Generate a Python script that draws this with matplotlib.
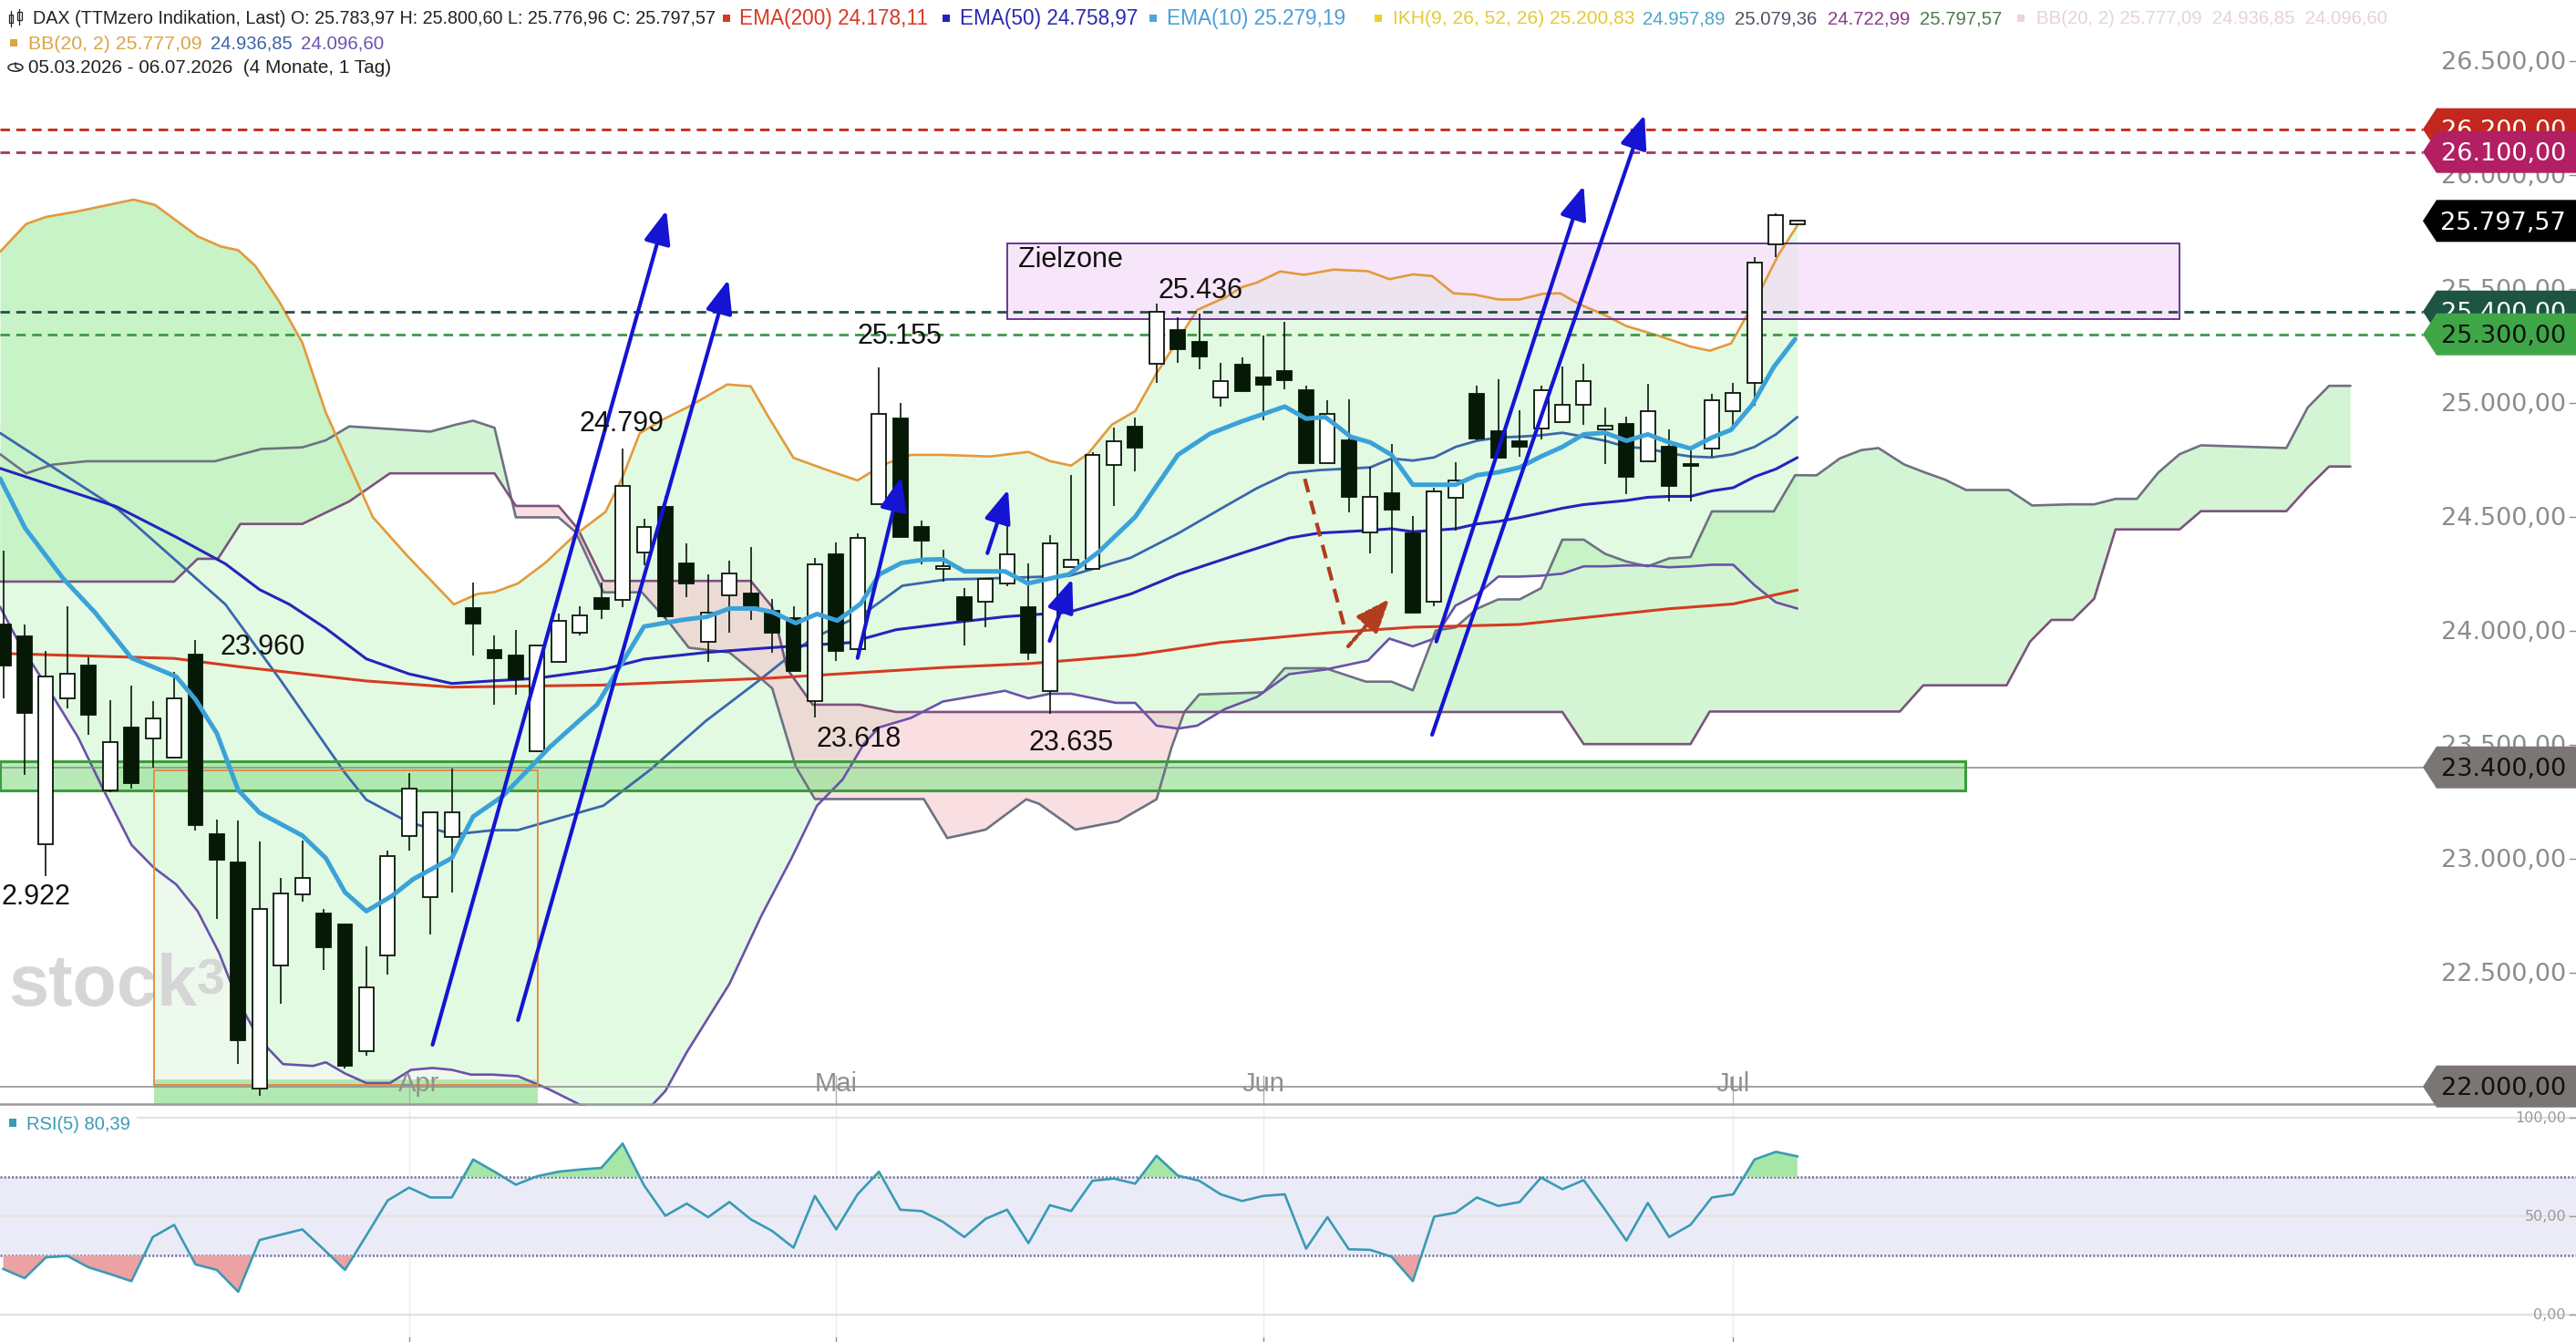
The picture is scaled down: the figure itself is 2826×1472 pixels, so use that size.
import numpy as np
import matplotlib
matplotlib.use("Agg")
import matplotlib.pyplot as plt
from matplotlib import font_manager as fm
from matplotlib.patches import Polygon, Rectangle, Circle
from matplotlib.lines import Line2D
import matplotlib.transforms as mtransforms

plt.rcParams['lines.scale_dashes'] = False

# ---------------- data ----------------
opens = [24026, 23976, 23061, 23704, 23848, 23300, 23574, 23525, 23442, 23896,
         23108, 22984, 21992, 22532, 22841, 22757, 22710, 22156, 22573, 23099,
         22832, 23094, 24100, 23915, 23890, 23472, 23861, 23990, 24142, 24133,
         24344, 24543, 24293, 23950, 24154, 24161, 24087, 24054, 23692, 24333,
         23918, 24555, 24930, 24454, 24272, 24147, 24127, 24207, 24101, 23733,
         24277, 24269, 24728, 24893, 25169, 25320, 25266, 25023, 25165, 25109,
         25138, 25056, 24734, 24834, 24432, 24601, 24427, 24126, 24581, 25040,
         24874, 24829, 24888, 24914, 24992, 24881, 24905, 24744, 24808, 24732,
         24799, 24964, 25088, 25694, 25783.97]
highs = [24352, 24026, 23909, 24106, 23884, 23696, 23759, 23692, 23818, 23960,
         23170, 23165, 23074, 22916, 23080, 22779, 22715, 22615, 23033, 23375,
         23203, 23395, 24211, 23980, 24004, 23933, 24073, 24108, 24211, 24799,
         24490, 24590, 24382, 24247, 24307, 24368, 24140, 24108, 24318, 24387,
         24425, 25155, 24997, 24482, 24353, 24187, 24227, 24485, 24293, 24419,
         24684, 24784, 24890, 24933, 25436, 25374, 25390, 25173, 25199, 25295,
         25355, 25076, 25010, 25016, 24718, 24817, 24502, 24627, 24737, 25074,
         25102, 24967, 25074, 25157, 25171, 24980, 24939, 25081, 24884, 24799,
         25040, 25088, 25639, 25829, 25800.60]
lows = [23701, 23367, 22922, 23659, 23542, 23291, 23305, 23400, 23438, 23124,
        22735, 22097, 21960, 22361, 22812, 22510, 22080, 22134, 22490, 23036,
        22665, 22852, 23890, 23675, 23718, 23468, 23861, 23980, 24050, 24104,
        24287, 24054, 24147, 23864, 23990, 24047, 23904, 23818, 23618, 23868,
        23911, 24555, 24411, 24290, 24214, 23935, 24015, 24194, 23869, 23635,
        24277, 24269, 24545, 24698, 25085, 25173, 25145, 24983, 25045, 24923,
        25059, 24734, 24734, 24519, 24339, 24250, 24080, 24106, 24440, 24833,
        24757, 24764, 24840, 24909, 24902, 24730, 24599, 24741, 24567, 24567,
        24764, 24888, 24985, 25639, 25776.96]
closes = [23846, 23639, 23797, 23812, 23632, 23509, 23332, 23614, 23702, 23148,
          22994, 22203, 22779, 22846, 22916, 22612, 22092, 22435, 23011, 23308,
          23203, 23203, 24032, 23880, 23787, 23933, 24044, 24067, 24093, 24635,
          24454, 24064, 24207, 24078, 24250, 24097, 23990, 23821, 24290, 23911,
          24407, 24950, 24411, 24393, 24283, 24048, 24227, 24336, 23902, 24382,
          24311, 24771, 24830, 24801, 25397, 25235, 25201, 25096, 25052, 25080,
          25100, 24734, 24950, 24585, 24588, 24532, 24080, 24609, 24659, 24844,
          24757, 24806, 25053, 24992, 25095, 24898, 24675, 24964, 24633, 24723,
          25012, 25044, 25615, 25821, 25797.57]

month_labels = ['Apr', 'Mai', 'Jun', 'Jul']
month_idx = [19, 39, 59, 81]

ema200_x = [-0.15, 8, 11, 17, 21, 28, 36, 44, 48, 53, 57, 62, 66, 71, 78, 81, 84]
ema200_y = [23900, 23878, 23842, 23779, 23752, 23761, 23792, 23838, 23855, 23893,
            23948, 23990, 24015, 24027, 24096, 24117, 24178]

ema50_x = [-0.15, 5.3, 8.1, 10.4, 12, 13.4, 15.1, 17, 19, 21, 23, 24.9, 28.2, 30, 32.9,
           35.9, 39.6, 41.8, 44.2, 46.9, 49.9, 52.8, 55, 58, 60.2, 61.6, 64, 65, 66, 67,
           68, 69, 70, 71, 72, 73, 74, 75, 76, 77, 78, 79, 80, 81, 82, 83, 84]
ema50_y = [24712, 24544, 24410, 24293, 24180, 24115, 24010, 23876, 23810, 23768, 23780,
           23790, 23832, 23875, 23904, 23925, 23947, 24004, 24032, 24061, 24081, 24161,
           24247, 24340, 24406, 24428, 24440, 24447, 24434, 24440, 24447, 24468, 24479,
           24496, 24516, 24537, 24553, 24562, 24571, 24585, 24589, 24589, 24613, 24627,
           24675, 24709, 24759]

ema10_x = [-0.15, 1.02, 2.8, 4.3, 6.0, 8.1, 9.0, 10.0, 11.0, 12.0, 14.0, 15.1, 16.0, 17.0,
           18.2, 19.2, 21.0, 22.0, 23.4, 25.6, 27.8, 28.8, 30.0, 31.8, 32.95, 34.0, 35.2,
           36.0, 37.1, 38.1, 39.05, 40.15, 41.03, 42.06, 43.1, 44.0, 45.0, 46.9, 47.97,
           49.9, 51.3, 53.0, 55.0, 56.5, 57.96, 60.0, 61.0, 61.9, 63.1, 64.0, 65.0, 66.0,
           67.0, 68.0, 69.0, 70.0, 71.0, 72.0, 73.0, 74.0, 75.0, 76.0, 77.0, 78.0, 79.0,
           80.0, 80.9, 81.9, 82.9, 83.9]
ema10_y = [24667, 24450, 24229, 24079, 23880, 23798, 23698, 23549, 23300, 23201, 23101,
           23002, 22852, 22769, 22836, 22910, 23002, 23184, 23275, 23490, 23675, 23832,
           24018, 24047, 24061, 24097, 24097, 24082, 24033, 24073, 24044, 24118, 24247,
           24297, 24311, 24313, 24260, 24260, 24207, 24247, 24346, 24499, 24771, 24864,
           24917, 24983, 24930, 24937, 24850, 24826, 24771, 24640, 24640, 24640, 24682,
           24695, 24716, 24764, 24806, 24861, 24868, 24833, 24861, 24826, 24799, 24847,
           24881, 24992, 25157, 25279]

bbmid_x = [-0.15, 5.4, 10.4, 13, 16, 17, 19, 21.1, 22.9, 24.1, 28.1, 30.3, 32.9, 35.3,
           37.8, 40.3, 42.1, 44.2, 45.5, 49.9, 52.8, 55, 57.2, 58.7, 60.2, 61.6, 64, 65,
           66, 67, 68, 69, 70, 71, 72, 73, 74, 75, 76, 77, 78, 79, 80, 81, 82, 83, 84]
bbmid_y = [24867, 24530, 24115, 23780, 23375, 23258, 23158, 23106, 23124, 23125, 23232,
           23390, 23604, 23775, 23961, 24075, 24197, 24225, 24227, 24240, 24320, 24426,
           24545, 24625, 24691, 24704, 24716, 24755, 24746, 24760, 24806, 24833, 24847,
           24851, 24857, 24868, 24851, 24833, 24806, 24799, 24778, 24764, 24760, 24774,
           24806, 24861, 24937]

bbup_x = [-0.15, 1.07, 2.0, 3.4, 6.1, 7.1, 9.1, 10.2, 11.0, 11.8, 12.9, 14.0, 15.1, 16.2,
          17.3, 18.9, 21.1, 22.2, 23.0, 24.1, 25.4, 26.8, 28.2, 29.0, 29.8, 30.9, 32.2,
          33.9, 35.0, 35.8, 37.0, 38.8, 40.0, 41.2, 42.5, 44.0, 46.2, 48.0, 49.0, 50.0,
          50.8, 51.9, 53.0, 54.0, 55.0, 55.9, 57.2, 58.0, 58.7, 59.8, 60.9, 62.3, 63.9,
          64.9, 66.0, 66.9, 67.9, 68.9, 70.0, 71.0, 72.1, 72.9, 73.8, 75.0, 76.0, 77.5,
          79.0, 79.9, 80.9, 81.6, 82.4, 83.1, 84]
bbup_y = [25662, 25784, 25815, 25838, 25891, 25868, 25730, 25685, 25669, 25600, 25447,
          25264, 24957, 24728, 24498, 24330, 24115, 24161, 24169, 24207, 24299, 24422,
          24521, 24674, 24866, 24927, 24988, 25080, 25072, 24942, 24758, 24697, 24659,
          24728, 24771, 24771, 24764, 24784, 24744, 24724, 24777, 24903, 24963, 25129,
          25275, 25407, 25461, 25507, 25527, 25576, 25561, 25584, 25577, 25542, 25563,
          25556, 25480, 25474, 25453, 25453, 25478, 25480, 25432, 25384, 25336, 25294,
          25246, 25228, 25260, 25377, 25515, 25646, 25777]

bblow_x = [-0.15, 0.73, 2.2, 3.5, 4.7, 6.0, 7.05, 8.1, 9.1, 10.1, 11.0, 12.0, 13.1, 14.5,
           15.1, 16.0, 17.0, 18.1, 19.1, 20.1, 21.0, 21.9, 22.9, 24.1, 25.5, 27, 28.5,
           30.0, 31.0, 32.0, 34.0, 35.5, 36.9, 38.1, 39.3, 40.3, 41.0, 42.5, 44.0, 46.9,
           48.0, 49.0, 50.0, 51.05, 52.1, 53.0, 54.0, 55.0, 55.9, 57.2, 58.7, 60.2, 61.9,
           63.9, 64.9, 66.0, 67.0, 68.0, 69.0, 70.0, 71.0, 72.0, 73.0, 74.0, 75.0, 76.0,
           77.0, 78.0, 79.0, 80.0, 81.0, 82.0, 83.0, 84.0]
bblow_y = [24104, 23947, 23731, 23532, 23300, 23060, 22960, 22886, 22769, 22587, 22372,
           22206, 22098, 22090, 22106, 22057, 22015, 22015, 22073, 22081, 22073, 22052,
           22052, 22045, 21990, 21920, 21870, 21880, 21980, 22150, 22450, 22750, 23000,
           23232, 23347, 23504, 23575, 23617, 23689, 23736, 23703, 23723, 23723, 23703,
           23683, 23683, 23583, 23570, 23583, 23656, 23709, 23809, 23829, 23869, 23965,
           23931, 23965, 24110, 24158, 24237, 24237, 24241, 24250, 24282, 24282, 24286,
           24286, 24278, 24282, 24289, 24289, 24199, 24124, 24097]

spanA_x = [-0.15, 1.07, 2.3, 3.9, 9.9, 12.1, 14.0, 15.1, 16.2, 20.0, 21.2, 22.0, 23.0,
           24.0, 26.0, 26.8, 28.1, 29.9, 31.2, 32.1, 34.0, 35.3, 36.0, 37.1, 38.0, 43.1,
           44.2, 45.2, 46.0, 47.9, 48.5, 50.2, 52.2, 54.0, 54.7, 55.3, 56.0, 59.0, 60.0,
           61.9, 63.8, 65.0, 66.0, 67.07, 68.0, 69.0, 70.0, 71.0, 72.0, 73.0, 74.0, 75.0,
           76.0, 77.0, 78.0, 79.0, 80.0, 82.9, 83.9, 84.9, 86.0, 87.0, 87.8, 89.0, 90.0,
           90.9, 91.9, 93.9, 95.0, 96.8, 97.9, 98.9, 99.9, 100.9, 101.9, 102.9, 106.9,
           107.9, 108.9, 109.9]
spanA_y = [24774, 24690, 24728, 24743, 24743, 24797, 24804, 24835, 24896, 24873, 24904,
           24921, 24890, 24497, 24497, 24432, 24168, 24168, 24033, 23925, 23904, 23804,
           23747, 23404, 23261, 23261, 23090, 23110, 23127, 23260, 23240, 23127, 23163,
           23260, 23487, 23643, 23720, 23729, 23835, 23835, 23776, 23776, 23738, 24000,
           24014, 24096, 24137, 24137, 24186, 24399, 24399, 24337, 24303, 24282, 24317,
           24323, 24523, 24523, 24682, 24681, 24756, 24792, 24801, 24729, 24693, 24663,
           24617, 24617, 24549, 24554, 24554, 24578, 24578, 24693, 24774, 24813, 24801,
           24979, 25074, 25074]

spanB_x = [-0.15, 8.0, 9.1, 10.05, 11.1, 14.0, 16.2, 18.1, 23.0, 24.0, 26.0, 26.9, 28.1,
           35.0, 36.0, 36.7, 37.9, 40.1, 41.8, 73.0, 74.0, 79.0, 79.9, 88.8, 89.9, 93.8,
           94.9, 95.9, 96.9, 97.9, 98.9, 101.9, 102.9, 106.9, 107.9, 108.9, 109.9]
spanB_y = [24215, 24215, 24315, 24315, 24468, 24468, 24567, 24690, 24690, 24547, 24547,
           24447, 24218, 24218, 24104, 23832, 23675, 23675, 23643, 23643, 23502, 23502,
           23645, 23645, 23760, 23760, 23952, 24047, 24047, 24140, 24444, 24444, 24524,
           24524, 24628, 24720, 24720]

rsi = [23.2, 18.5, 29.1, 29.8, 24.0, 20.6, 17.0, 39.4, 45.6, 25.5,
       22.7, 11.6, 37.9, 40.6, 43.3, 33.2, 22.7, 40.2, 58.0, 64.5,
       59.5, 59.5, 78.8, 72.6, 66.0, 70.3, 72.6, 73.7, 74.5, 86.9,
       65.7, 50.2, 56.4, 49.5, 57.2, 48.4, 42.5, 34.0, 60.3, 43.3,
       61.1, 72.6, 53.3, 52.6, 47.1, 39.4, 48.7, 53.3, 36.3, 55.6,
       52.6, 68.0, 69.1, 66.5, 80.7, 70.6, 68.0, 61.1, 57.7, 60.3,
       61.1, 33.5, 49.5, 33.2, 32.9, 29.4, 17.0, 49.8, 51.8, 59.5,
       55.2, 57.2, 69.6, 63.7, 68.3, 53.3, 37.6, 56.7, 39.4, 45.6,
       59.5, 61.1, 78.8, 82.7, 80.39]

level_prices = [26200, 26100, 25400, 25300]
level_colors = ['#c3271d', '#a8306e', '#1f5444', '#3f9a45']

value_labels = ['24.799', '25.155', '25.436', '23.960', '23.618', '23.635']
value_label_x = [26.99, 40.0, 54.08, 10.15, 38.08, 47.99]
value_label_p = [24907, 25289, 25491, 23927, 23523, 23508]

blue_arrows = [(20.1, 22183, 31.05, 25844), (24.1, 22291, 33.95, 25540),
               (40.0, 23880, 42.05, 24675), (46.08, 24340, 47.05, 24619),
               (48.99, 23955, 50.05, 24227), (67.1, 23952, 74.0, 25952),
               (66.9, 23543, 76.85, 26263)]

# ---------------- geometry ----------------
W, H, DPI = 2826, 1472, 100
X0, DX = 3.6, 23.43
def px2i(px):
    return (px - X0) / DX
XL = (px2i(0), px2i(W))
P_TOP, P_BOT = 26766.8, 21914.8
MAIN_BOTTOM_PX = 1213

def has_font(name):
    try:
        fm.findfont(fm.FontProperties(family=name), fallback_to_default=False)
        return True
    except Exception:
        return False

NARROW = 'Liberation Sans Narrow' if has_font('Liberation Sans Narrow') else 'Liberation Sans'
SANS = 'Liberation Sans' if has_font('Liberation Sans') else 'DejaVu Sans'
AXF = 'DejaVu Sans'

fig = plt.figure(figsize=(W / DPI, H / DPI), dpi=DPI)
fig.patch.set_facecolor('white')
ax = fig.add_axes([0, (H - MAIN_BOTTOM_PX) / H, 1, MAIN_BOTTOM_PX / H])
ax.set_xlim(*XL)
ax.set_ylim(P_BOT, P_TOP)
ax.axis('off')
blend = mtransforms.blended_transform_factory(ax.transAxes, ax.transData)

# ---------------- fills ----------------
ax.add_patch(Rectangle((7.08, 22007), 25.03 - 7.08, 23388 - 22007, facecolor='#eef9ee',
                       edgecolor='none', zorder=0.3))
gx = np.linspace(-0.15, 84, 3000)
up = np.interp(gx, bbup_x, bbup_y)
lo = np.interp(gx, bblow_x, bblow_y)
ax.fill_between(gx, lo, up, color='#e2fae2', lw=0, zorder=0.5)

cx = np.linspace(-0.15, 109.9, 4000)
A = np.interp(cx, spanA_x, spanA_y)
B = np.interp(cx, spanB_x, spanB_y)
ax.fill_between(cx, A, B, where=A >= B, interpolate=True, color='#b2eeb2', alpha=0.55,
                lw=0, zorder=0.6)
ax.fill_between(cx, A, B, where=A < B, interpolate=True, color='#f5c3cb', alpha=0.55,
                lw=0, zorder=0.6)
lx = np.linspace(-0.15, 17.0, 600)
la = np.interp(lx, spanA_x, spanA_y)
lu = np.interp(lx, bbup_x, bbup_y)
ax.fill_between(lx, la, lu, where=lu > la, interpolate=True, color='#b2eeb2', alpha=0.55,
                lw=0, zorder=0.6)

# watermark
ax.text(0.23, 22355, 'stock', fontsize=57, color='#d6d6d6', family=SANS, weight='bold',
        ha='left', va='baseline', zorder=0.7)
ax.text(9.07, 22405, '3', fontsize=40, color='#d6d6d6', family=SANS, weight='bold',
        ha='left', va='baseline', zorder=0.7)

# zones
ax.add_patch(Rectangle((47.0, 25366), 101.9 - 47.0, 25699 - 25366, facecolor='#f3d9f7',
                       alpha=0.65, edgecolor='none', zorder=0.8))
ax.add_patch(Rectangle((47.0, 25366), 101.9 - 47.0, 25699 - 25366, facecolor='none',
                       edgecolor='#5b2a8c', lw=1.3, zorder=3.6))
ax.text(47.52, 25627, 'Zielzone', fontsize=22, family=SANS, color='#111111', ha='left',
        va='center', zorder=6)

ax.add_patch(Rectangle((XL[0], 23300), 91.87 - XL[0], 23425 - 23300, facecolor='#9fe49f',
                       alpha=0.75, edgecolor='none', zorder=0.9))
ax.add_patch(Rectangle((XL[0], 23300), 91.87 - XL[0], 23425 - 23300, facecolor='none',
                       edgecolor='#3d9c3d', lw=2.2, zorder=3.6))
ax.add_patch(Rectangle((7.08, 21915), 25.03 - 7.08, 22030 - 21915, facecolor='#b2e8b2',
                       edgecolor='none', zorder=0.9))
ax.add_patch(Rectangle((7.08, 22007), 25.03 - 7.08, 23388 - 22007, facecolor='none',
                       edgecolor='#e8873a', lw=1.3, zorder=3.6))

# ---------------- lines ----------------
kw = dict(solid_joinstyle='round', solid_capstyle='round')
ax.plot(spanA_x, spanA_y, color='#6e7182', lw=1.9, zorder=2, **kw)
ax.plot(spanB_x, spanB_y, color='#7d527f', lw=1.9, zorder=2, **kw)
ax.plot(bbup_x, bbup_y, color='#e39a3b', lw=1.9, zorder=2.5, **kw)
ax.plot(bblow_x, bblow_y, color='#6a52aa', lw=1.9, zorder=2.5, **kw)
ax.plot(bbmid_x, bbmid_y, color='#3a66ad', lw=2.0, zorder=2.5, **kw)
ax.plot(ema200_x, ema200_y, color='#d63a22', lw=2.2, zorder=2.6, **kw)
ax.plot(ema50_x, ema50_y, color='#2424bb', lw=2.2, zorder=2.6, **kw)

x_tip = px2i(2658)
for p, c in zip(level_prices, level_colors):
    ax.plot([XL[0], x_tip], [p, p], color=c, lw=2.0, ls=(0, (7.5, 5)), zorder=3.5)
ax.plot([XL[0], x_tip], [23400, 23400], color='#8a8a8a', lw=1.1, zorder=3.5)
ax.plot([XL[0], x_tip], [22000, 22000], color='#8a8a8a', lw=1.1, zorder=3.5)
ax.plot([XL[0], XL[1]], [P_BOT + 8, P_BOT + 8], color='#9a9a9a', lw=1.8, zorder=3.5)

# ---------------- candles ----------------
idx = np.arange(len(closes))
o = np.array(opens); c = np.array(closes); h = np.array(highs); l = np.array(lows)
ax.vlines(idx, l, h, color='#0a160a', lw=1.2, zorder=4)
upc = c >= o
body_lo = np.minimum(o, c)
body_h = np.maximum(np.abs(c - o), 6)
ax.bar(idx[upc], body_h[upc], bottom=body_lo[upc], width=0.68, color='white',
       edgecolor='#0a160a', lw=1.3, zorder=4.1)
ax.bar(idx[~upc], body_h[~upc], bottom=body_lo[~upc], width=0.68, color='#061806',
       edgecolor='#061806', lw=1.3, zorder=4.1)

ax.plot(ema10_x, ema10_y, color='#3ba2d9', lw=3.6, zorder=4.5, **kw)

# ---------------- arrows ----------------
for (x1, y1, x2, y2) in blue_arrows:
    ax.annotate('', xy=(x2, y2), xytext=(x1, y1),
                arrowprops=dict(arrowstyle='-|>,head_length=0.75,head_width=0.3',
                                color='#1414d2', lw=3.0, mutation_scale=30,
                                shrinkA=0, shrinkB=0), zorder=5)
ax.plot([60.94, 62.84], [24666, 24000], color='#b23c1e', lw=3.0, ls=(0, (11, 7)), zorder=5)
ax.annotate('', xy=(64.9, 24139), xytext=(62.97, 23931),
            arrowprops=dict(arrowstyle='-|>,head_length=0.75,head_width=0.3',
                            color='#b23c1e', lw=3.0, mutation_scale=30,
                            shrinkA=0, shrinkB=0, linestyle=(0, (4, 2.5))), zorder=5)

# ---------------- value labels ----------------
for s, xi, pi in zip(value_labels, value_label_x, value_label_p):
    ax.text(xi, pi, s, fontsize=22, family=SANS, color='#111111', ha='left',
            va='center', zorder=6)
ax.text(px2i(1), 22831, '2.922', fontsize=22, family=SANS, color='#111111', ha='left',
        va='center', zorder=6)

for mi, ml in zip(month_idx, month_labels):
    ax.plot([mi, mi], [P_BOT, 22046], color='#b0b0b0', lw=1.0, zorder=3.4)
    ax.text(mi + (0.45 if ml == 'Apr' else 0), 22011, ml, fontsize=21, family=SANS,
            color='#8f8f8f', ha='center', va='center', zorder=6)

# ---------------- right axis ----------------
def de(v, nd=2):
    s = f"{v:,.{nd}f}"
    return s.replace(',', 'X').replace('.', ',').replace('X', '.')

BASE_OFF = 38
for v in range(22000, 26501, 500):
    ax.text(2815 / W, v - BASE_OFF, de(v), transform=blend, fontsize=19.5, family=AXF,
            color='#8c8c8c', ha='right', va='baseline', zorder=7)
    ax.plot([2819 / W, 1.0], [v, v], transform=blend, color='#8c8c8c', lw=1.0, zorder=7,
            clip_on=False)

def tag(price, fc, tc, text, z):
    hh = 92
    tip = 2658 / W
    body = 2673 / W
    poly = Polygon([(tip, price), (body, price + hh), (1.0, price + hh),
                    (1.0, price - hh), (body, price - hh)], closed=True,
                   transform=blend, facecolor=fc, edgecolor='none', zorder=z,
                   clip_on=False)
    ax.add_patch(poly)
    ax.text(2815 / W, price - BASE_OFF, text, transform=blend, fontsize=19.5, family=AXF,
            color=tc, ha='right', va='baseline', zorder=z + 0.05)

tag(26200, '#c3271d', 'white', '26.200,00', 8.0)
tag(26100, '#b21f62', 'white', '26.100,00', 8.1)
tag(25797.57, '#000000', 'white', '25.797,57', 8.2)
tag(25400, '#1d5443', 'white', '25.400,00', 8.3)
tag(25300, '#3ea646', '#111111', '25.300,00', 8.4)
tag(23400, '#7b7673', '#111111', '23.400,00', 8.5)
tag(22000, '#7b7673', '#111111', '22.000,00', 8.6)

# ---------------- RSI panel ----------------
R_TOP, R_BOT = 105.1, -13.9
axr = fig.add_axes([0, 0, 1, (H - 1215) / H])
axr.set_xlim(*XL)
axr.set_ylim(R_BOT, R_TOP)
axr.axis('off')
blr = mtransforms.blended_transform_factory(axr.transAxes, axr.transData)
axr.fill_between([XL[0], XL[1]], 30, 70, color='#ebebf8', lw=0, zorder=0.5)
for v in (100, 50, 0):
    axr.plot([XL[0], XL[1]], [v, v], color='#e2e2e2', lw=1.6, zorder=0.6)
for mi in month_idx:
    axr.plot([mi, mi], [R_BOT, R_TOP], color='#ececec', lw=1.0, zorder=0.55)
    axr.plot([mi, mi], [R_BOT, R_BOT + 2.5], color='#909090', lw=1.0, zorder=0.7)
for v in (70, 30):
    axr.plot([XL[0], XL[1]], [v, v], color='#6f6f9a', lw=1.8, ls=(0, (1.5, 1.5)), zorder=1)
ri = np.arange(len(rsi))
ra = np.array(rsi)
axr.fill_between(ri, ra, 70, where=ra > 70, interpolate=True, color='#a6e6a6', lw=0,
                 zorder=1.2)
axr.fill_between(ri, ra, 30, where=ra < 30, interpolate=True, color='#eca2a2', lw=0,
                 zorder=1.2)
axr.plot(ri, ra, color='#3a9ab6', lw=1.9, zorder=2, solid_joinstyle='round')
for v, s in ((100, '100,00'), (50, '50,00'), (0, '0,00')):
    axr.text(2815 / W, v - 2.2, s, transform=blr, fontsize=11.5, family=AXF,
             color='#999999', ha='right', va='baseline', zorder=3)
    axr.plot([2819 / W, 1.0], [v, v], transform=blr, color='#999999', lw=1.0, zorder=3)
axr.add_patch(Rectangle((0, 92), 150 / W, 13, transform=blr, facecolor='white',
                        edgecolor='none', zorder=3))
axr.add_patch(Rectangle((10 / W, 95.5), 8 / W, 4, transform=blr, facecolor='#3a9ab6',
                        edgecolor='none', zorder=3.1))
axr.text(29 / W, 94.2, 'RSI(5) 80,39', transform=blr, fontsize=14.5, family=NARROW,
         color='#3a9ab6', ha='left', va='baseline', zorder=3.1)

# ---------------- header ----------------
renderer = fig.canvas.get_renderer()
def fx(px):
    return px / W
def fy(py):
    return 1 - py / H

def measure(s, fs):
    t = fig.text(0, 0, s, fontsize=fs, family=NARROW)
    w = t.get_window_extent(renderer).width
    t.remove()
    return w

seg0 = 'DAX (TTMzero Indikation, Last) O: 25.783,97 H: 25.800,60 L: 25.776,96 C: 25.797,57'
FS = min(14 * 750 / measure(seg0, 14), 17.5)

def htext(px, py, s, col, target=None):
    fs = FS
    if target is not None:
        fs = FS * target / measure(s, FS)
        fs = max(min(fs, FS * 1.15), FS * 0.9)
    fig.text(fx(px), fy(py + 6.5), s, fontsize=fs, family=NARROW, color=col, ha='left',
             va='baseline', zorder=10)

def hsq(px, py, col):
    fig.patches.append(Rectangle((fx(px - 4), fy(py + 4)), 8 / W, 8 / H,
                                 transform=fig.transFigure, facecolor=col,
                                 edgecolor='none', zorder=10))

L1, L2, L3 = 20, 47, 74
for (cx_, y1, y2, b1, b2) in ((12, 12, 29, 16, 25), (21, 10, 27, 13, 22)):
    fig.add_artist(Line2D([fx(cx_), fx(cx_)], [fy(y1), fy(y2)], color='#222222', lw=0.9,
                          transform=fig.transFigure))
    fig.patches.append(Rectangle((fx(cx_ - 2.5), fy(b2)), 5 / W, (b2 - b1) / H,
                                 transform=fig.transFigure, facecolor='white',
                                 edgecolor='#222222', lw=0.9))
htext(36, L1, seg0, '#222222')
hsq(797, L1, '#d63a22'); htext(811, L1, 'EMA(200) 24.178,11', '#d63a22', 211)
hsq(1038, L1, '#2424bb'); htext(1053, L1, 'EMA(50) 24.758,97', '#2a2ab0', 196)
hsq(1265, L1, '#4aa6e2'); htext(1280, L1, 'EMA(10) 25.279,19', '#4a9fd8', 211)
hsq(1512, L1, '#f0d028'); htext(1528, L1, 'IKH(9, 26, 52, 26) 25.200,83', '#e6c935', 265)
htext(1802, L1, '24.957,89', '#4aa5c6', 90)
htext(1903, L1, '25.079,36', '#4f5062', 90)
htext(2005, L1, '24.722,99', '#8a3c86', 90)
htext(2106, L1, '25.797,57', '#4b7a4b', 90)
hsq(2217, L1, '#f0d3d8')
htext(2234, L1, 'BB(20, 2) 25.777,09  24.936,85  24.096,60', '#e6d3d6', 387)

hsq(15, L2, '#dca445'); htext(31, L2, 'BB(20, 2) 25.777,09', '#dca445', 191)
htext(231, L2, '24.936,85', '#3a64a8', 90)
htext(330, L2, '24.096,60', '#6f54ae', 92)

fig.patches.append(Circle((fx(17), fy(L3)), 8 / W, transform=fig.transFigure,
                          facecolor='none', edgecolor='#222222', lw=1.1))
fig.add_artist(Line2D([fx(17), fx(17), fx(21)], [fy(L3 - 5), fy(L3), fy(L3 + 2)],
                      color='#222222', lw=1.0, transform=fig.transFigure))
htext(31, L3, '05.03.2026 - 06.07.2026  (4 Monate, 1 Tag)', '#222222', 402)

fig.savefig('out.png', dpi=DPI, facecolor='white')
